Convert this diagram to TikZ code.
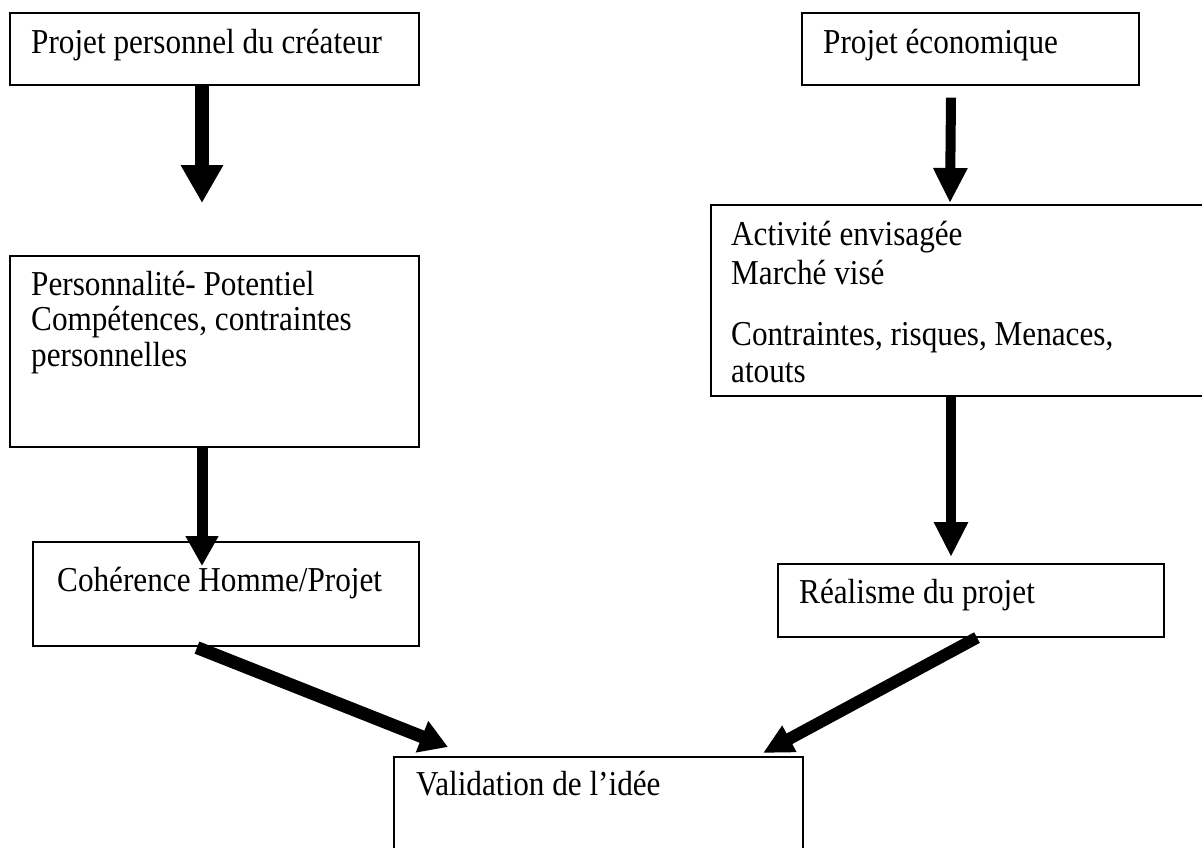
\documentclass[tikz,border=0pt]{standalone}
\usepackage{graphicx}
\usepackage{fontspec}
\setmainfont{Liberation Serif}
\usetikzlibrary{arrows.meta,calc}
\newcommand{\vstretch}[1]{\scalebox{1}[1.12]{#1}}
\tikzset{
  box/.style={draw=black, line width=1.6pt, rectangle, inner sep=0pt, anchor=north west},
  txt/.style={inner sep=0pt, anchor=base west, font=\fontsize{31.2}{36}\selectfont},
  fatarrow/.style n args={3}{line width=#1, -{Triangle[length=#2, width=#3]}}
}
\begin{document}
\begin{tikzpicture}[x=1pt,y=-1pt]
\useasboundingbox (0,0) rectangle (1202,847);
\clip (0,0) rectangle (1202,847);
% boxes
\node[box, minimum width=409pt, minimum height=72pt] (b1) at (9,12) {};
\node[box, minimum width=337pt, minimum height=72pt] (b2) at (801,12) {};
\node[box, minimum width=409pt, minimum height=191pt] (b3) at (9,255) {};
\node[box, minimum width=510pt, minimum height=191pt] (b4) at (710,204) {};
\node[box, minimum width=386pt, minimum height=104pt] (b5) at (32,541) {};
\node[box, minimum width=386pt, minimum height=73pt] (b6) at (777,563) {};
\node[box, minimum width=409pt, minimum height=120pt] (b7) at (393,756) {};
% texts
\node[txt] (t1) at (31,53) {\vstretch{Projet personnel du créateur}};
\node[txt] (t2) at (823,53) {\vstretch{Projet économique}};
\node[txt] (t3a) at (31,295) {\vstretch{Personnalité- Potentiel}};
\node[txt] (t3b) at (31,330) {\vstretch{Compétences, contraintes}};
\node[txt] (t3c) at (31,366) {\vstretch{personnelles}};
\node[txt] (t4a) at (731,245) {\vstretch{Activité envisagée}};
\node[txt] (t4b) at (731,284) {\vstretch{Marché visé}};
\node[txt] (t4c) at (731,345) {\vstretch{Contraintes, risques, Menaces,}};
\node[txt] (t4d) at (731,382) {\vstretch{atouts}};
\node[txt] (t5) at (57,591) {\vstretch{Cohérence Homme/Projet}};
\node[txt] (t6) at (799,603) {\vstretch{Réalisme du projet}};
\node[txt] (t7) at (416,795) {\vstretch{Validation de l’idée}};
% arrows
\draw[fatarrow={14pt}{38pt}{40pt}] ($(b1.south west)+(193,0)$) -- ($(b3.north west)+(193,-52)$);
\draw[fatarrow={10pt}{35pt}{32pt}] ($(b2.south west)+(150,12)$) -- ($(b4.north west)+(240,-1)$);
\draw[fatarrow={11pt}{30pt}{31pt}] ($(b3.south west)+(193,0)$) -- ($(b5.north west)+(170,25)$);
\draw[fatarrow={10pt}{35pt}{32pt}] ($(b4.south west)+(241,0)$) -- ($(b6.north west)+(174,-6)$);
\draw[fatarrow={13pt}{28pt}{32pt}] ($(b5.south west)+(165,1)$) -- ($(b7.north west)+(55,-9)$);
\draw[fatarrow={12pt}{30pt}{28pt}] ($(b6.south west)+(200,0)$) -- ($(b7.north west)+(370,-3)$);
\end{tikzpicture}
\end{document}
